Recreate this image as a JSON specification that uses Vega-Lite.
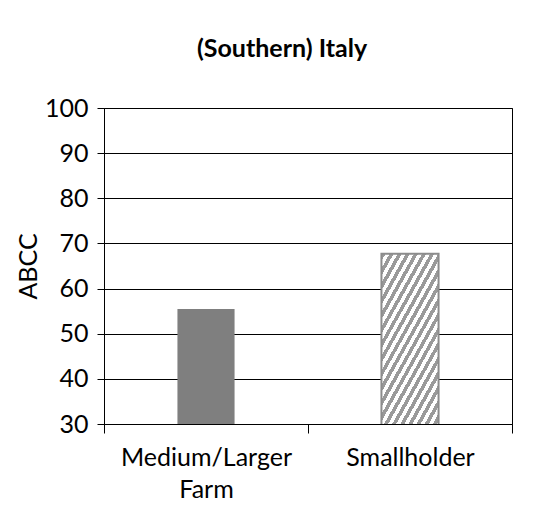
{
  "$schema": "https://vega.github.io/schema/vega-lite/v6.json",
  "width": 408,
  "height": 316,
  "autosize": {"type": "none"},
  "padding": {"left": 104, "top": 108, "right": 40, "bottom": 107},
  "background": "white",
  "title": {
    "text": "(Southern) Italy",
    "anchor": "middle",
    "frame": "group",
    "dx": -26,
    "offset": 34,
    "font": "Lato",
    "fontSize": 25,
    "fontWeight": "bold",
    "color": "#000000"
  },
  "data": {
    "values": [
      {"farm": "Medium/Larger Farm", "abcc": 55.5},
      {"farm": "Smallholder", "abcc": 67.7}
    ]
  },
  "mark": {"type": "bar", "width": {"band": 0.28}, "clip": true},
  "encoding": {
    "x": {
      "field": "farm",
      "type": "nominal",
      "sort": null,
      "scale": {"paddingInner": 0, "paddingOuter": 0},
      "axis": {
        "title": null,
        "labelAngle": 0,
        "tickBand": "extent",
        "tickSize": 9,
        "tickColor": "#000000",
        "domainColor": "#000000",
        "labelPadding": 12,
        "labelLineHeight": 32,
        "labelBaseline": "top",
        "labelExpr": "datum.label == 'Medium/Larger Farm' ? ['Medium/Larger', 'Farm'] : datum.label"
      }
    },
    "y": {
      "field": "abcc",
      "type": "quantitative",
      "scale": {"domain": [30, 100], "nice": false, "zero": false},
      "axis": {
        "title": "ABCC",
        "values": [30, 40, 50, 60, 70, 80, 90, 100],
        "grid": true,
        "gridColor": "#000000",
        "gridOpacity": 1,
        "gridWidth": 1,
        "tickSize": 7,
        "tickColor": "#000000",
        "domainColor": "#000000",
        "labelPadding": 9,
        "titlePadding": 3,
        "titleFont": "Lato",
        "titleFontSize": 25,
        "titleFontWeight": "normal",
        "titleColor": "#000000"
      }
    },
    "fill": {
      "condition": {
        "test": "datum.farm === 'Smallholder'",
        "value": {
          "gradient": "linear",
          "x1": 0, "y1": 0, "x2": 0.403, "y2": 1.2,
          "stops": [
            {"offset": 0, "color": "#9a9a9a"}, {"offset": 0.0179, "color": "#9a9a9a"}, {"offset": 0.0179, "color": "#ffffff"}, {"offset": 0.0357, "color": "#ffffff"},
            {"offset": 0.0357, "color": "#9a9a9a"}, {"offset": 0.0536, "color": "#9a9a9a"}, {"offset": 0.0536, "color": "#ffffff"}, {"offset": 0.0714, "color": "#ffffff"},
            {"offset": 0.0714, "color": "#9a9a9a"}, {"offset": 0.0893, "color": "#9a9a9a"}, {"offset": 0.0893, "color": "#ffffff"}, {"offset": 0.1071, "color": "#ffffff"},
            {"offset": 0.1071, "color": "#9a9a9a"}, {"offset": 0.125, "color": "#9a9a9a"}, {"offset": 0.125, "color": "#ffffff"}, {"offset": 0.1429, "color": "#ffffff"},
            {"offset": 0.1429, "color": "#9a9a9a"}, {"offset": 0.1607, "color": "#9a9a9a"}, {"offset": 0.1607, "color": "#ffffff"}, {"offset": 0.1786, "color": "#ffffff"},
            {"offset": 0.1786, "color": "#9a9a9a"}, {"offset": 0.1964, "color": "#9a9a9a"}, {"offset": 0.1964, "color": "#ffffff"}, {"offset": 0.2143, "color": "#ffffff"},
            {"offset": 0.2143, "color": "#9a9a9a"}, {"offset": 0.2321, "color": "#9a9a9a"}, {"offset": 0.2321, "color": "#ffffff"}, {"offset": 0.25, "color": "#ffffff"},
            {"offset": 0.25, "color": "#9a9a9a"}, {"offset": 0.2679, "color": "#9a9a9a"}, {"offset": 0.2679, "color": "#ffffff"}, {"offset": 0.2857, "color": "#ffffff"},
            {"offset": 0.2857, "color": "#9a9a9a"}, {"offset": 0.3036, "color": "#9a9a9a"}, {"offset": 0.3036, "color": "#ffffff"}, {"offset": 0.3214, "color": "#ffffff"},
            {"offset": 0.3214, "color": "#9a9a9a"}, {"offset": 0.3393, "color": "#9a9a9a"}, {"offset": 0.3393, "color": "#ffffff"}, {"offset": 0.3571, "color": "#ffffff"},
            {"offset": 0.3571, "color": "#9a9a9a"}, {"offset": 0.375, "color": "#9a9a9a"}, {"offset": 0.375, "color": "#ffffff"}, {"offset": 0.3929, "color": "#ffffff"},
            {"offset": 0.3929, "color": "#9a9a9a"}, {"offset": 0.4107, "color": "#9a9a9a"}, {"offset": 0.4107, "color": "#ffffff"}, {"offset": 0.4286, "color": "#ffffff"},
            {"offset": 0.4286, "color": "#9a9a9a"}, {"offset": 0.4464, "color": "#9a9a9a"}, {"offset": 0.4464, "color": "#ffffff"}, {"offset": 0.4643, "color": "#ffffff"},
            {"offset": 0.4643, "color": "#9a9a9a"}, {"offset": 0.4821, "color": "#9a9a9a"}, {"offset": 0.4821, "color": "#ffffff"}, {"offset": 0.5, "color": "#ffffff"},
            {"offset": 0.5, "color": "#9a9a9a"}, {"offset": 0.5179, "color": "#9a9a9a"}, {"offset": 0.5179, "color": "#ffffff"}, {"offset": 0.5357, "color": "#ffffff"},
            {"offset": 0.5357, "color": "#9a9a9a"}, {"offset": 0.5536, "color": "#9a9a9a"}, {"offset": 0.5536, "color": "#ffffff"}, {"offset": 0.5714, "color": "#ffffff"},
            {"offset": 0.5714, "color": "#9a9a9a"}, {"offset": 0.5893, "color": "#9a9a9a"}, {"offset": 0.5893, "color": "#ffffff"}, {"offset": 0.6071, "color": "#ffffff"},
            {"offset": 0.6071, "color": "#9a9a9a"}, {"offset": 0.625, "color": "#9a9a9a"}, {"offset": 0.625, "color": "#ffffff"}, {"offset": 0.6429, "color": "#ffffff"},
            {"offset": 0.6429, "color": "#9a9a9a"}, {"offset": 0.6607, "color": "#9a9a9a"}, {"offset": 0.6607, "color": "#ffffff"}, {"offset": 0.6786, "color": "#ffffff"},
            {"offset": 0.6786, "color": "#9a9a9a"}, {"offset": 0.6964, "color": "#9a9a9a"}, {"offset": 0.6964, "color": "#ffffff"}, {"offset": 0.7143, "color": "#ffffff"},
            {"offset": 0.7143, "color": "#9a9a9a"}, {"offset": 0.7321, "color": "#9a9a9a"}, {"offset": 0.7321, "color": "#ffffff"}, {"offset": 0.75, "color": "#ffffff"},
            {"offset": 0.75, "color": "#9a9a9a"}, {"offset": 0.7679, "color": "#9a9a9a"}, {"offset": 0.7679, "color": "#ffffff"}, {"offset": 0.7857, "color": "#ffffff"},
            {"offset": 0.7857, "color": "#9a9a9a"}, {"offset": 0.8036, "color": "#9a9a9a"}, {"offset": 0.8036, "color": "#ffffff"}, {"offset": 0.8214, "color": "#ffffff"},
            {"offset": 0.8214, "color": "#9a9a9a"}, {"offset": 0.8393, "color": "#9a9a9a"}, {"offset": 0.8393, "color": "#ffffff"}, {"offset": 0.8571, "color": "#ffffff"},
            {"offset": 0.8571, "color": "#9a9a9a"}, {"offset": 0.875, "color": "#9a9a9a"}, {"offset": 0.875, "color": "#ffffff"}, {"offset": 0.8929, "color": "#ffffff"},
            {"offset": 0.8929, "color": "#9a9a9a"}, {"offset": 0.9107, "color": "#9a9a9a"}, {"offset": 0.9107, "color": "#ffffff"}, {"offset": 0.9286, "color": "#ffffff"},
            {"offset": 0.9286, "color": "#9a9a9a"}, {"offset": 0.9464, "color": "#9a9a9a"}, {"offset": 0.9464, "color": "#ffffff"}, {"offset": 0.9643, "color": "#ffffff"},
            {"offset": 0.9643, "color": "#9a9a9a"}, {"offset": 0.9821, "color": "#9a9a9a"}, {"offset": 0.9821, "color": "#ffffff"}, {"offset": 1, "color": "#ffffff"}
          ]
        }
      },
      "value": "#7f7f7f"
    },
    "stroke": {
      "condition": {"test": "datum.farm === 'Smallholder'", "value": "#8c8c8c"},
      "value": null
    },
    "strokeWidth": {
      "condition": {"test": "datum.farm === 'Smallholder'", "value": 2},
      "value": 0
    }
  },
  "config": {
    "view": {"stroke": "#000000", "strokeWidth": 1},
    "axis": {
      "labelFont": "Lato",
      "labelFontSize": 25,
      "labelColor": "#000000",
      "domainWidth": 1,
      "tickWidth": 1
    }
  }
}
